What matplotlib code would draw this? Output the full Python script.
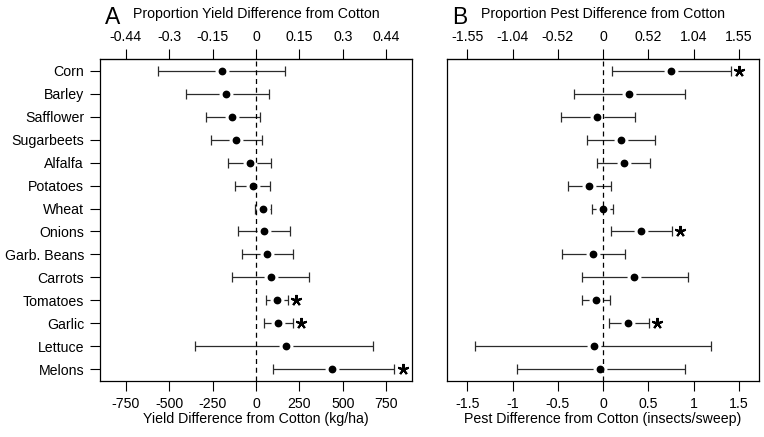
import numpy as np
import matplotlib
matplotlib.use('Agg')
import matplotlib.pyplot as plt
from matplotlib.transforms import offset_copy

plt.rcParams['font.family'] = ['Liberation Sans', 'DejaVu Sans']
plt.rcParams['font.size'] = 10.2

# crops, top to bottom
crops = ['Corn', 'Barley', 'Safflower', 'Sugarbeets', 'Alfalfa', 'Potatoes', 'Wheat',
         'Onions', 'Garb. Beans', 'Carrots', 'Tomatoes', 'Garlic', 'Lettuce', 'Melons']

# panel A: yield difference (kg/ha)
yield_mean = [-196, -173, -136, -117, -37, -19, 40, 48, 63, 86, 121, 128, 173, 438]
yield_low = [-563, -401, -288, -257, -161, -119, -7, -102, -82, -140, 59, 44, -350, 96]
yield_high = [167, 77, 25, 33, 86, 82, 86, 198, 213, 307, 183, 213, 672, 797]
yield_sig = ['Tomatoes', 'Garlic', 'Melons']

# panel B: pest difference (insects/sweep)
pest_mean = [0.745, 0.288, -0.066, 0.196, 0.229, -0.158, -0.007, 0.417, -0.111, 0.336,
             -0.081, 0.273, -0.103, -0.033]
pest_low = [0.10, -0.324, -0.471, -0.177, -0.066, -0.387, -0.128, 0.088, -0.453, -0.232,
            -0.236, 0.063, -1.42, -0.947]
pest_high = [1.41, 0.90, 0.354, 0.575, 0.52, 0.085, 0.107, 0.76, 0.243, 0.94,
             0.074, 0.505, 1.195, 0.90]
pest_sig = ['Corn', 'Onions', 'Garlic']

yield_ticks = [-750, -500, -250, 0, 250, 500, 750]
yield_labels = ['-750', '-500', '-250', '0', '250', '500', '750']
yield_prop = ['-0.44', '-0.3', '-0.15', '0', '0.15', '0.3', '0.44']
pest_ticks = [-1.5, -1, -0.5, 0, 0.5, 1, 1.5]
pest_labels = ['-1.5', '-1', '-0.5', '0', '0.5', '1', '1.5']
pest_prop = ['-1.55', '-1.04', '-0.52', '0', '0.52', '1.04', '1.55']

fig = plt.figure(figsize=(7.64, 4.37), dpi=100)
axA = fig.add_axes([100 / 764, 1 - 381 / 437, 312 / 764, 322 / 437])
axB = fig.add_axes([447 / 764, 1 - 381 / 437, 312 / 764, 322 / 437])


def panel(ax, mean, low, high, sig, xlim, ticks, labels, prop, xlabel, title, letter, show_y):
    y = np.arange(1, len(crops) + 1)
    mean = np.array(mean)
    low = np.array(low)
    high = np.array(high)
    ax.errorbar(mean, y, xerr=[mean - low, high - mean], fmt='none', ecolor='#2b2b2b',
                elinewidth=0.9, capsize=3.5, capthick=0.9, zorder=2)
    # white halo -> gap in the bar around the dot
    ax.plot(mean, y, 'o', ms=10, mfc='white', mec='none', zorder=3)
    ax.axvline(0, color='black', ls=(0, (4, 3)), lw=0.9, zorder=4)
    ax.plot(mean, y, 'o', ms=4.6, mfc='black', mec='black', zorder=5)
    star_tr = offset_copy(ax.transData, fig=fig, x=8.5, y=0, units='dots')
    for c in sig:
        i = crops.index(c)
        ax.plot(high[i], y[i], marker=(5, 2, 0), ms=8, mew=1.5, color='black',
                transform=star_tr, zorder=6)

    ax.set_xlim(*xlim)
    ax.set_ylim(len(crops) + 0.52, 0.48)
    ax.set_xticks(ticks, labels)
    if show_y:
        ax.set_yticks(y, crops)
    else:
        ax.set_yticks([])
    ax.tick_params(direction='out', length=7, width=0.8, pad=4.5)
    ax.set_xlabel(xlabel, labelpad=1)
    for s in ax.spines.values():
        s.set_linewidth(0.9)

    sec = ax.secondary_xaxis('top')
    sec.set_xticks(ticks, prop)
    sec.tick_params(direction='out', length=7, width=0.8, pad=3.5)

    bb = ax.get_position()
    fig.text(bb.x0 + bb.width / 2, 1 - 14 / 437, title, ha='center', va='center')
    fig.text(bb.x0 + 5 / 764, 1 - 23.5 / 437, letter, fontsize=16.5, ha='left', va='baseline')


panel(axA, yield_mean, yield_low, yield_high, yield_sig, (-899, 899), yield_ticks,
      yield_labels, yield_prop, 'Yield Difference from Cotton (kg/ha)',
      'Proportion Yield Difference from Cotton', 'A', True)
panel(axB, pest_mean, pest_low, pest_high, pest_sig, (-1.725, 1.722), pest_ticks,
      pest_labels, pest_prop, 'Pest Difference from Cotton (insects/sweep)',
      'Proportion Pest Difference from Cotton', 'B', False)

fig.savefig('out.png', dpi=100)
